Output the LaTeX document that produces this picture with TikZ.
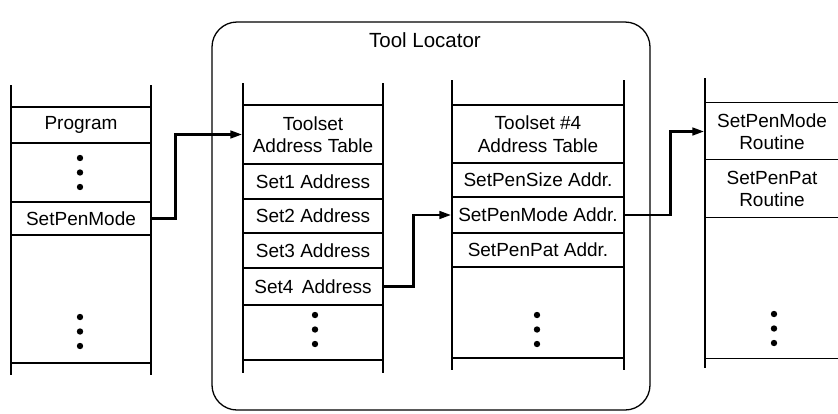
\documentclass[tikz,border=0pt]{standalone}
\usepackage{fontspec}
\setmainfont{Liberation Sans}
\usetikzlibrary{arrows.meta,calc}

\begin{document}
\begin{tikzpicture}[x=1pt,y=-1pt,
  rule/.style={line width=1.3pt},
  cell/.style={draw, rule, inner sep=0pt, align=center,
    font=\fontsize{19}{22.5}\selectfont},
  opencell/.style={cell, draw=none},
  link/.style={line width=2.8pt, -{Triangle[length=12pt,width=7.5pt]}},
  vdots/.pic={\fill (0,0) circle (3.2) (0,14.5) circle (3.2) (0,29) circle (3.2);}
]
\useasboundingbox (0,0) rectangle (838,413);

% Tool Locator enclosure
\node[draw, rule, rounded corners=25pt, minimum width=438, minimum height=388]
  (locator) at (431,216) {};
\node[font=\fontsize{20.5}{24}\selectfont] (title) at (425,40) {Tool Locator};

% Program memory
\node[cell, minimum width=140, minimum height=36]  (prog)  at (81,125)   {Program};
\node[cell, minimum width=140, minimum height=59]  (gap1)  at (81,172.5) {};
\node[cell, minimum width=140, minimum height=33]  (spm)   at (81,218.5) {SetPenMode};
\node[cell, minimum width=140, minimum height=128] (tail1) at (81,299)   {};
\coordinate (p1t) at (11,85);  \coordinate (p1b) at (11,375);
\coordinate (p2t) at (151,85); \coordinate (p2b) at (151,375);
\draw[rule] (p1t) -- (p1b) (p2t) -- (p2b);
\pic at (80,158) {vdots};
\pic at (80,317) {vdots};

% Toolset address table
\node[cell, minimum width=140, minimum height=59] (tat)   at (313,134.5) {Toolset\\Address Table};
\node[cell, minimum width=140, minimum height=35] (s1)    at (313,181.5) {Set1 Address};
\node[cell, minimum width=140, minimum height=34] (s2)    at (313,216)   {Set2 Address};
\node[cell, minimum width=140, minimum height=35] (s3)    at (313,250.5) {Set3 Address};
\node[cell, minimum width=140, minimum height=37] (s4)    at (313,286.5) {Set4\ \,Address};
\node[cell, minimum width=140, minimum height=55] (tail2) at (313,332.5) {};
\coordinate (a1t) at (243,83);  \coordinate (a1b) at (243,373);
\coordinate (a2t) at (383,83);  \coordinate (a2b) at (383,373);
\draw[rule] (a1t) -- (a1b) (a2t) -- (a2b);
\pic at (315,315) {vdots};

% Toolset #4 address table
\node[cell, minimum width=172, minimum height=58] (t4)    at (538,134)   {Toolset \#4\\Address Table};
\node[cell, minimum width=172, minimum height=34] (psz)   at (538,180)   {SetPenSize Addr.};
\node[cell, minimum width=172, minimum height=36] (pmd)   at (538,215)   {SetPenMode Addr.};
\node[cell, minimum width=172, minimum height=34] (ppt)   at (538,250)   {SetPenPat Addr.};
\node[cell, minimum width=172, minimum height=91] (tail3) at (538,312.5) {};
\coordinate (b1t) at (452,80);  \coordinate (b1b) at (452,370);
\coordinate (b2t) at (624,80);  \coordinate (b2b) at (624,370);
\draw[rule] (b1t) -- (b1b) (b2t) -- (b2b);
\pic at (537,315) {vdots};

% Routines (running off the right edge)
\node[opencell, minimum width=134, minimum height=57]  (r1)    at (772,131.5) {SetPenMode\\Routine};
\node[opencell, minimum width=134, minimum height=58]  (r2)    at (772,189)   {SetPenPat\\Routine};
\node[opencell, minimum width=134, minimum height=140] (tail4) at (772,288)   {};
\coordinate (edge) at (838,0);
\coordinate (c1t) at (705,78); \coordinate (c1b) at (705,368);
\draw[rule] (c1t) -- (c1b);
\draw[rule] (r1.north west) -- (r1.north west -| edge)
            (r2.north west) -- (r2.north west -| edge)
            (tail4.north west) -- (tail4.north west -| edge)
            (tail4.south west) -- (tail4.south west -| edge);
\pic at (774,314) {vdots};

% Pointer chain
\draw[link] (spm.east) -- ++(24,0) |- (tat.west);
\draw[link] (s4.east) -- ++(30,0) |- (pmd.west);
\draw[link] (pmd.east) -- ++(46,0) |- (r1.west);
\end{tikzpicture}
\end{document}
